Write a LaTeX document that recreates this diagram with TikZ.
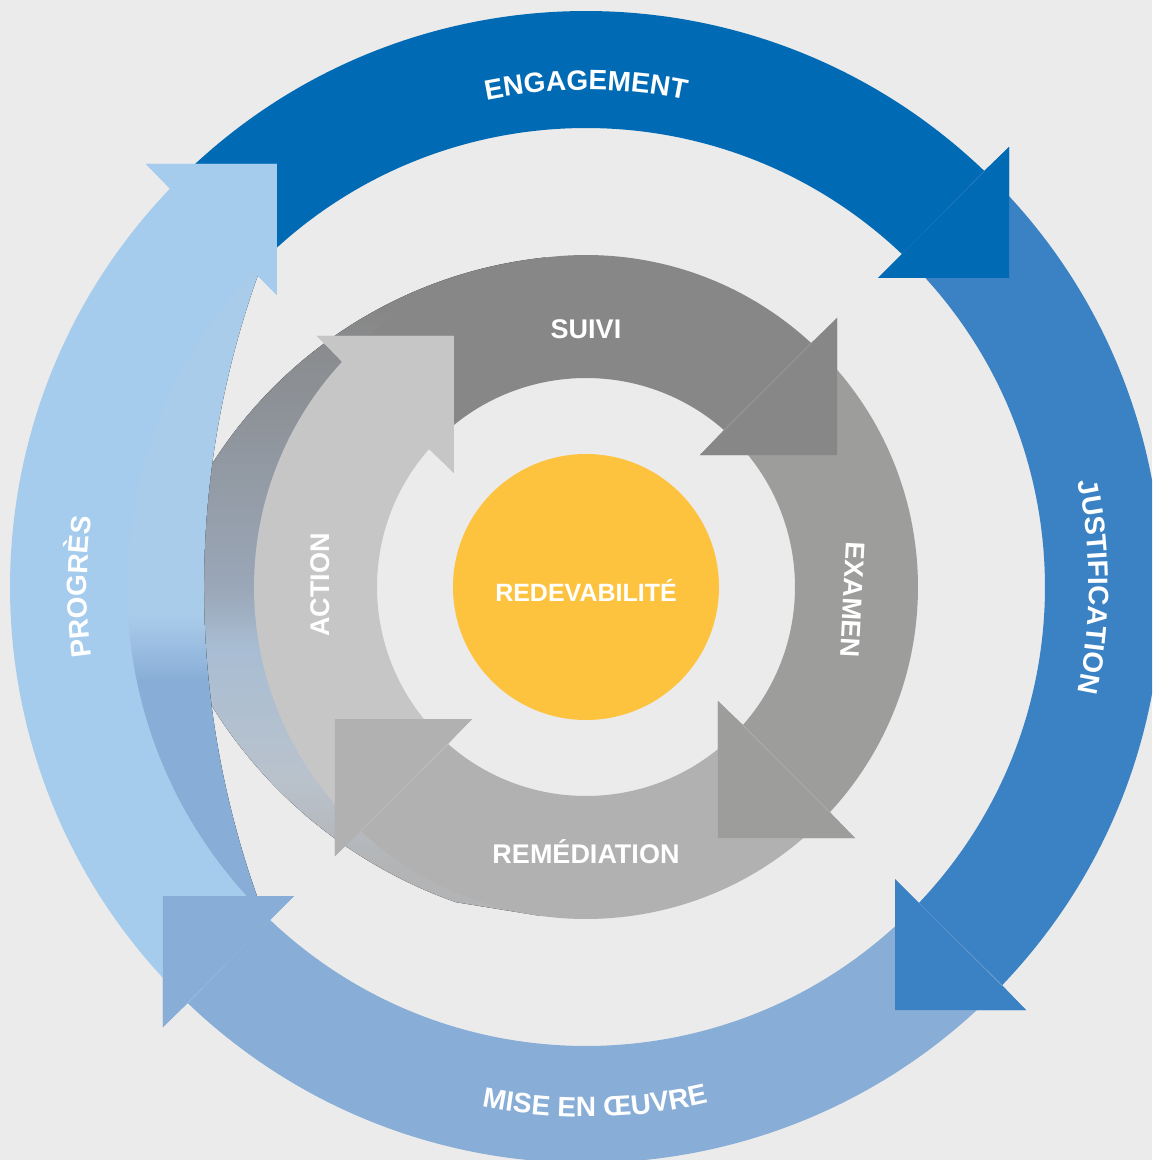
\documentclass[tikz,border=0pt]{standalone}
\usepackage{fontspec}
\setsansfont{Liberation Sans}
\usepackage{tikz}
\usetikzlibrary{decorations.text}
\definecolor{bgc}{HTML}{EBEBEB}
\definecolor{engage}{HTML}{006AB4}
\definecolor{justif}{HTML}{3A82C4}
\definecolor{mise}{HTML}{88ADD6}
\definecolor{progres}{HTML}{A5CBED}
\definecolor{suivi}{HTML}{878787}
\definecolor{examen}{HTML}{9D9D9C}
\definecolor{remed}{HTML}{B1B1B1}
\definecolor{action}{HTML}{C6C6C6}
\definecolor{redev}{HTML}{FDC33F}
\definecolor{tailmid}{HTML}{9AA7B8}
\definecolor{taillt}{HTML}{A8BDD3}
\definecolor{taillm}{HTML}{B9C2CC}
\definecolor{taillb}{HTML}{B3B4B5}
\definecolor{crescb}{HTML}{88ADD6}
\definecolor{cresct}{HTML}{AACCEB}
\pgfdeclareverticalshading{tail}{100bp}{color(0bp)=(taillb); color(28.7bp)=(taillb); color(35.5bp)=(taillm); color(45.3bp)=(taillt); color(49.9bp)=(tailmid); color(71bp)=(suivi); color(100bp)=(suivi)}
\pgfdeclareverticalshading{cresc}{100bp}{color(0bp)=(crescb); color(43bp)=(crescb); color(48bp)=(cresct); color(100bp)=(cresct)}
\newcommand{\outerfont}{\sffamily\bfseries\fontsize{28}{30}\selectfont}
\tikzset{
      lbl/.style   = {decorate, decoration={text along path, text align=center, text color=white}},
      inlbl/.style = {text=white, font=\sffamily\bfseries\fontsize{27}{29}\selectfont, text height=19.3pt, text depth=0pt, inner sep=0pt},
      core/.style  = {fill=redev},
    }

\begin{document}
\begin{tikzpicture}[x=1pt, y=1pt]
    \useasboundingbox (-586,-573) rectangle (566,587);
    \clip (-586,-573) rectangle (566,587);
    \fill[bgc] (-586,-573) rectangle (566,587);

    % tails on the left
    \fill[shading=tail] (-40,329.6) arc[start angle=95.87, end angle=164.47, radius=450]
        arc[start angle=195.67, end angle=250.57, radius=472]
        -- (262:332) -- (262:260) arc[start angle=262, end angle=98.8, radius=260] -- cycle;
    \fill[shading=cresc] (133.07:465) arc[start angle=133.07, end angle=226.93, radius=465]
        arc[start angle=201.5, end angle=158.5, radius=927] -- cycle;

    % outer ring
    \begin{scope}[rotate=0]
      \fill[engage] (136.26:576) arc[start angle=136.26, end angle=46.26, radius=576]
        -- (423,440) -- (423,309) -- (292,309) -- (46.5:459) arc[start angle=46.5, end angle=136.5, radius=459] -- cycle;
    \end{scope}
    \begin{scope}[rotate=-90]
      \fill[justif] (136.26:576) arc[start angle=136.26, end angle=46.26, radius=576]
        -- (423,440) -- (423,309) -- (292,309) -- (46.5:459) arc[start angle=46.5, end angle=136.5, radius=459] -- cycle;
    \end{scope}
    \begin{scope}[rotate=-180]
      \fill[mise] (136.26:576) arc[start angle=136.26, end angle=46.26, radius=576]
        -- (423,440) -- (423,309) -- (292,309) -- (46.5:459) arc[start angle=46.5, end angle=136.5, radius=459] -- cycle;
    \end{scope}
    \begin{scope}[rotate=90]
      \fill[progres] (136.26:576) arc[start angle=136.26, end angle=46.26, radius=576]
        -- (423,440) -- (423,309) -- (292,309) -- (46.5:459) arc[start angle=46.5, end angle=136.5, radius=459] -- cycle;
    \end{scope}
    \fill[engage, rotate=0] (423,440) -- (423,309) -- (292,309) -- cycle;
    \fill[justif, rotate=-90] (423,440) -- (423,309) -- (292,309) -- cycle;
    \fill[mise, rotate=-180] (423,440) -- (423,309) -- (292,309) -- cycle;
    \fill[progres, rotate=90] (423,440) -- (423,309) -- (292,309) -- cycle;

    % inner ring
    \begin{scope}[rotate=0]
      \fill[suivi] (137.3:332) arc[start angle=137.3, end angle=47.3, radius=332]
        -- (251,269) -- (251,132) -- (114,132) -- (48.7:209) arc[start angle=48.7, end angle=138.7, radius=209] -- cycle;
    \end{scope}
    \begin{scope}[rotate=-90]
      \fill[examen] (137.3:332) arc[start angle=137.3, end angle=47.3, radius=332]
        -- (251,269) -- (251,132) -- (114,132) -- (48.7:209) arc[start angle=48.7, end angle=138.7, radius=209] -- cycle;
    \end{scope}
    \begin{scope}[rotate=180]
      \fill[remed] (137.3:332) arc[start angle=137.3, end angle=47.3, radius=332]
        -- (251,269) -- (251,132) -- (114,132) -- (48.7:209) arc[start angle=48.7, end angle=138.7, radius=209] -- cycle;
    \end{scope}
    \begin{scope}[rotate=90]
      \fill[action] (137.3:332) arc[start angle=137.3, end angle=47.3, radius=332]
        -- (251,269) -- (251,132) -- (114,132) -- (48.7:209) arc[start angle=48.7, end angle=138.7, radius=209] -- cycle;
    \end{scope}
    \fill[suivi, rotate=0] (251,269) -- (251,132) -- (114,132) -- cycle;
    \fill[examen, rotate=-90] (251,269) -- (251,132) -- (114,132) -- cycle;
    \fill[remed, rotate=180] (251,269) -- (251,132) -- (114,132) -- cycle;
    \fill[action, rotate=90] (251,269) -- (251,132) -- (114,132) -- cycle;

    % centre
    \fill[core] (0,0) circle (133);
    \node[anchor=base, text=white, font=\sffamily\bfseries\fontsize{25}{27}\selectfont] (redev) at (0,-14) {REDEVABILITÉ};

    % labels
    \path[lbl, decoration={text={|\outerfont|ENGAGEMENT}}] (115:497) arc[start angle=115, end angle=65, radius=497];
    \path[lbl, decoration={text={|\outerfont|JUSTIFICATION}}] (25:503) arc[start angle=25, end angle=-25, radius=503];
    \path[lbl, decoration={text={|\outerfont|MISE EN ŒUVRE}}] (246:530) arc[start angle=246, end angle=296, radius=530];
    \path[lbl, decoration={text={|\outerfont|PROGRÈS}}] (205:499) arc[start angle=205, end angle=155, radius=499];
    \node[inlbl] (suivi) at (0,258) {SUIVI};
    \node[inlbl, rotate=-93] (examen) at (267,-13) {EXAMEN};
    \node[inlbl] (remed) at (0,-267) {REMÉDIATION};
    \node[inlbl, rotate=90] (action) at (-266,2) {ACTION};
\end{tikzpicture}
\end{document}
